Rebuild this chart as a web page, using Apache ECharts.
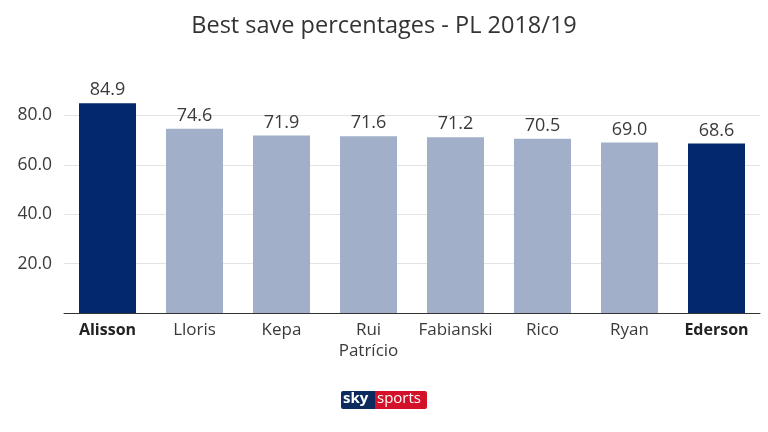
<!DOCTYPE html>
<html><head><meta charset="utf-8">
<script src="https://cdn.jsdelivr.net/npm/echarts@6/dist/echarts.min.js"></script>
<style>html,body{margin:0;padding:0;background:#fff}#c{width:768px;height:432px}</style>
</head><body><div id="c"></div>
<script>
const categories = ['Alisson','Lloris','Kepa','Rui\nPatrício','Fabianski','Rico','Ryan','Ederson'];
const values = [84.9, 74.6, 71.9, 71.6, 71.2, 70.5, 69.0, 68.6];
const highlighted = ['Alisson','Ederson'];
const DARK = '#03286c', LIGHT = '#a1afc9';
const chart = echarts.init(document.getElementById('c'));
chart.setOption({
  backgroundColor:'#fff',
  animation:false,
  title:{text:'Best save percentages - PL 2018/19',left:'center',top:9,
    textStyle:{fontFamily:'Open Sans',fontWeight:'normal',fontSize:23.5,color:'#333'}},
  grid:{left:64,right:8,top:66,bottom:119},
  xAxis:{type:'category',data:categories,
    axisLine:{lineStyle:{color:'#333',width:1}},axisTick:{show:false},
    axisLabel:{interval:0,margin:7,fontFamily:'Open Sans',fontSize:17,lineHeight:21,color:'#3a3a3a',
      formatter:v=>highlighted.includes(v)?'{b|'+v+'}':v,
      rich:{b:{fontFamily:'Open Sans',fontWeight:'bold',fontSize:16,color:'#222'}}}},
  yAxis:{type:'value',min:0,max:100,interval:20,
    axisLine:{show:false},axisTick:{show:false},
    splitLine:{showMaxLine:false,lineStyle:{color:'#e3e3e3'}},
    axisLabel:{margin:12,fontFamily:'Open Sans',fontSize:17.5,color:'#3a3a3a',
      formatter:v=>(v===0||v===100)?'':v.toFixed(1)}},
  series:[{type:'bar',barWidth:57,
    data:values.map((v,i)=>({value:v,itemStyle:{color:highlighted.includes(categories[i])?DARK:LIGHT}})),
    label:{show:true,position:'top',distance:4,fontFamily:'Open Sans',fontSize:18,color:'#3a3a3a',
      formatter:p=>p.value.toFixed(1)}}],
  graphic:[
    {type:'rect',left:341,top:391,shape:{width:34,height:18,r:[2,0,0,2]},style:{fill:'#0c2a5e'}},
    {type:'text',left:343,top:391,style:{text:'sky',fontFamily:'Open Sans',fontWeight:'bold',fontSize:15,fill:'#fff'}},
    {type:'rect',left:375,top:391,shape:{width:52,height:18,r:[0,2,2,0]},style:{fill:'#d3122a'}},
    {type:'text',left:377,top:391,style:{text:'sports',fontFamily:'Open Sans',fontSize:15,fill:'#fff'}}
  ]
});
</script></body></html>
